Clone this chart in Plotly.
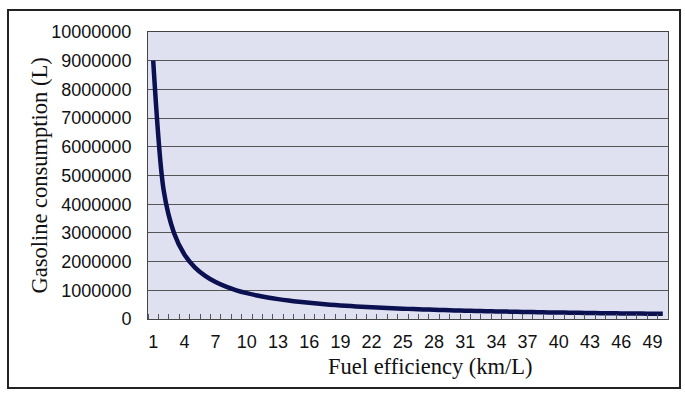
import plotly.graph_objects as go

efficiency = list(range(1, 51))
consumption = [
    9000000, 4500000, 3000000, 2250000, 1800000, 1500000, 1285714, 1125000, 1000000, 900000,
    818182, 750000, 692308, 642857, 600000, 562500, 529412, 500000, 473684, 450000,
    428571, 409091, 391304, 375000, 360000, 346154, 333333, 321429, 310345, 300000,
    290323, 281250, 272727, 264706, 257143, 250000, 243243, 236842, 230769, 225000,
    219512, 214286, 209302, 204545, 200000, 195652, 191489, 187500, 183673, 180000,
]
x_ticks = list(range(1, 51, 3))
y_ticks = list(range(0, 10000001, 1000000))

W, H = 685, 399
L, R, T, B = 148, 17, 32, 80
pw, ph = W - L - R, H - T - B

def px(x):
    return (x - L) / pw

def py(y):
    return (H - B - y) / ph

fig = go.Figure()
fig.add_trace(go.Scatter(
    x=efficiency, y=consumption, mode="lines",
    line=dict(color="#0b1050", width=4.5, shape="spline", smoothing=0.8),
    hoverinfo="skip", showlegend=False,
))

fig.update_layout(
    width=W, height=H,
    margin=dict(l=L, r=R, t=T, b=B),
    paper_bgcolor="white",
    plot_bgcolor="#dfe0f0",
    font=dict(family="Liberation Sans, Arial", color="#111111", size=18),
    xaxis=dict(
        range=[0.5, 50.5], tickmode="array", tickvals=x_ticks,
        ticktext=[str(v) for v in x_ticks],
        ticks="", showgrid=False, zeroline=False,
        showline=True, linecolor="#444444", linewidth=1, mirror=True,
        ticklabelstandoff=6,
        tickfont=dict(size=18),
        minor=dict(ticks="inside", tick0=0.5, dtick=1, ticklen=5,
                   tickcolor="#555555", tickwidth=1, showgrid=False),
    ),
    yaxis=dict(
        range=[0, 10000000], tickmode="array", tickvals=y_ticks,
        ticktext=[str(v) for v in y_ticks],
        ticks="", showgrid=True, gridcolor="#555555", gridwidth=1,
        zeroline=False,
        showline=True, linecolor="#444444", linewidth=1, mirror=True,
        ticklabelstandoff=12,
        tickfont=dict(size=18),
    ),
    annotations=[
        dict(text="Gasoline consumption (L)", x=px(39), y=0.5, xref="paper", yref="paper",
             textangle=-90, showarrow=False, xanchor="center", yanchor="middle",
             font=dict(family="Liberation Serif, Times New Roman", size=22.5, color="#111111")),
        dict(text="Fuel efficiency (km/L)", x=px(430), y=py(366), xref="paper", yref="paper",
             showarrow=False, xanchor="center", yanchor="middle",
             font=dict(family="Liberation Serif, Times New Roman", size=22.5, color="#111111")),
    ],
    shapes=[
        dict(type="rect", xref="paper", yref="paper",
             x0=px(8), x1=px(680), y0=py(388), y1=py(10),
             line=dict(color="#222222", width=2), fillcolor="rgba(0,0,0,0)", layer="below"),
    ],
)

fig.write_html("out.html", config={"displayModeBar": False},
               post_script="document.body.style.margin='0';")
